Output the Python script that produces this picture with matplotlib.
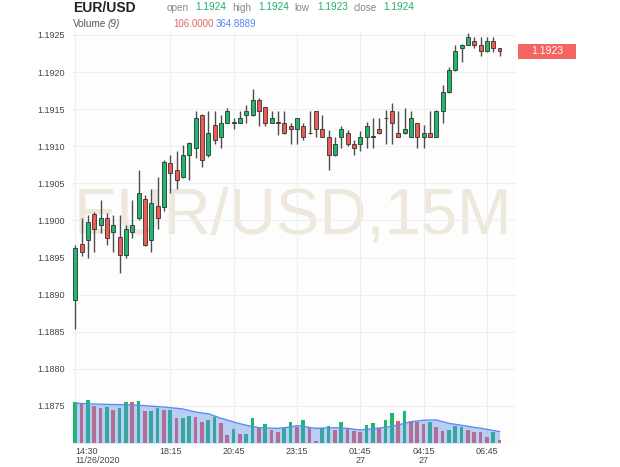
import matplotlib
matplotlib.use("Agg")
import matplotlib.pyplot as plt
import matplotlib.transforms as mtransforms
from matplotlib.patches import Rectangle
import numpy as np

plt.rcParams['font.family'] = ['Liberation Sans', 'DejaVu Sans']

# 15 minute candles, 11/26/2020 14:30 onwards
opens = [1.18893, 1.18968, 1.18973, 1.19009, 1.18994, 1.19003, 1.18984, 1.18978, 1.18953, 1.18984,
         1.19003, 1.19029, 1.18973, 1.19019, 1.19018, 1.19078, 1.19068, 1.19058, 1.19088, 1.19097,
         1.19142, 1.19088, 1.19129, 1.19113, 1.19132, 1.19132, 1.19132, 1.19142, 1.19142, 1.19162,
         1.19153, 1.19132, 1.19132, 1.19132, 1.19127, 1.19123, 1.19127, 1.19118, 1.19148, 1.19123,
         1.19113, 1.19088, 1.19113, 1.19118, 1.19103, 1.19103, 1.19113, 1.19113, 1.19123, 1.19138,
         1.19148, 1.19118, 1.19118, 1.19113, 1.19132, 1.19113, 1.19118, 1.19113, 1.19148, 1.19173,
         1.19203, 1.19233, 1.19237, 1.19242, 1.19237, 1.19228, 1.19242, 1.19233]
highs = [1.18967, 1.19003, 1.19007, 1.19012, 1.19028, 1.19010, 1.19007, 1.19007, 1.18994, 1.19028,
         1.19068, 1.19034, 1.19043, 1.19058, 1.19082, 1.19088, 1.19093, 1.19102, 1.19106, 1.19148,
         1.19144, 1.19148, 1.19148, 1.19142, 1.19152, 1.19138, 1.19148, 1.19156, 1.19177, 1.19165,
         1.19153, 1.19148, 1.19148, 1.19148, 1.19131, 1.19138, 1.19132, 1.19148, 1.19148, 1.19142,
         1.19122, 1.19113, 1.19127, 1.19122, 1.19108, 1.19120, 1.19133, 1.19138, 1.19138, 1.19149,
         1.19158, 1.19148, 1.19152, 1.19148, 1.19132, 1.19129, 1.19148, 1.19149, 1.19183, 1.19207,
         1.19237, 1.19238, 1.19252, 1.19247, 1.19247, 1.19247, 1.19247, 1.19233]
lows = [1.18853, 1.18952, 1.18949, 1.18958, 1.18983, 1.18967, 1.18958, 1.18929, 1.18949, 1.18976,
        1.19001, 1.18965, 1.18958, 1.18988, 1.19013, 1.19037, 1.19042, 1.19057, 1.19054, 1.19084,
        1.19072, 1.19086, 1.19103, 1.19097, 1.19131, 1.19123, 1.19131, 1.19132, 1.19141, 1.19127,
        1.19127, 1.19131, 1.19115, 1.19117, 1.19103, 1.19103, 1.19108, 1.19117, 1.19113, 1.19112,
        1.19068, 1.19087, 1.19097, 1.19100, 1.19088, 1.19093, 1.19097, 1.19097, 1.19117, 1.19103,
        1.19103, 1.19112, 1.19117, 1.19112, 1.19097, 1.19097, 1.19112, 1.19112, 1.19132, 1.19172,
        1.19202, 1.19213, 1.19236, 1.19233, 1.19222, 1.19227, 1.19227, 1.19222]
closes = [1.18963, 1.18958, 1.18998, 1.18988, 1.19003, 1.18977, 1.18994, 1.18953, 1.18988, 1.18994,
          1.19037, 1.18967, 1.19023, 1.19003, 1.19079, 1.19064, 1.19054, 1.19088, 1.19104, 1.19138,
          1.19082, 1.19118, 1.19108, 1.19132, 1.19148, 1.19133, 1.19138, 1.19148, 1.19162, 1.19148,
          1.19132, 1.19138, 1.19132, 1.19118, 1.19123, 1.19138, 1.19113, 1.19118, 1.19123, 1.19113,
          1.19088, 1.19103, 1.19123, 1.19103, 1.19097, 1.19113, 1.19127, 1.19113, 1.19118, 1.19138,
          1.19132, 1.19113, 1.19123, 1.19138, 1.19113, 1.19118, 1.19113, 1.19148, 1.19173, 1.19203,
          1.19228, 1.19237, 1.19247, 1.19237, 1.19228, 1.19242, 1.19233, 1.19228]

volumes = [1302, 1238, 1376, 1184, 1130, 1162, 1056, 1130, 1322, 1302,
           1354, 1034, 1034, 1130, 1056, 1056, 810, 810, 874, 842,
           662, 736, 842, 630, 256, 448, 278, 278, 790, 470,
           598, 416, 342, 490, 662, 522, 736, 522, 60, 470,
           554, 416, 682, 448, 384, 362, 576, 630, 490, 736,
           950, 704, 1024, 682, 662, 598, 682, 502, 384, 416,
           554, 522, 416, 342, 342, 202, 342, 106]
vol_up = [1, 0, 1, 0, 0, 1, 0, 1, 1, 0,
          1, 0, 1, 1, 0, 1, 0, 1, 1, 0,
          0, 1, 1, 0, 0, 1, 0, 1, 1, 0,
          1, 0, 0, 1, 1, 0, 1, 0, 0, 1,
          1, 0, 1, 0, 0, 0, 1, 1, 0, 1,
          1, 0, 1, 0, 0, 0, 1, 0, 0, 1,
          1, 1, 0, 0, 0, 0, 1, 0]
vol_ma = [1270, 1264, 1258, 1248, 1242, 1235, 1232, 1226, 1222, 1216,
          1206, 1194, 1178, 1165, 1152, 1130, 1110, 1088, 1040, 992,
          960, 938, 864, 790, 736, 672, 618, 566, 528, 490,
          480, 474, 470, 490, 512, 554, 534, 496, 470, 474,
          480, 490, 480, 470, 442, 416, 435, 458, 480, 502,
          538, 576, 630, 682, 704, 726, 736, 736, 682, 630,
          598, 566, 534, 502, 470, 438, 400, 365]

tick_idx = [0, 15, 25, 35, 45, 55, 65]
tick_labels = ['14:30\n11/26/2020', '18:15', '20:45', '23:15', '01:45\n27', '04:15\n27', '06:45']
price_ticks = [1.1875, 1.1880, 1.1885, 1.1890, 1.1895, 1.1900, 1.1905, 1.1910, 1.1915, 1.1920, 1.1925]

GREEN = '#1db86c'
RED = '#f05a55'

fig = plt.figure(figsize=(6.2, 4.67), dpi=100)
ax = fig.add_axes([72 / 620, 24 / 467, 444 / 620, 411 / 467])
ax.set_facecolor('#fdfdfd')

x = np.arange(len(opens))
o = np.array(opens)
c = np.array(closes)
h = np.array(highs)
l = np.array(lows)

# watermark
ax.text(0.497, 0.552, 'EUR/USD,15M', transform=ax.transAxes, fontsize=47,
        color='#ede7dc', ha='center', va='center', zorder=0)

# candles
ax.vlines(x, l, h, color='#4d4d4d', linewidth=1, zorder=2)
body_col = [GREEN if cc > oo else (RED if cc < oo else '#333333') for oo, cc in zip(o, c)]
bottom = np.minimum(o, c)
height = np.maximum(np.abs(c - o), 0.000004)
ax.bar(x, height, bottom=bottom, width=0.62, color=body_col,
       edgecolor='#333333', linewidth=0.6, zorder=3)

ax.set_xlim(-0.52, 69.6)
ax.set_ylim(1.18700, 1.19254)

ax.set_yticks(price_ticks)
ax.set_yticklabels(['%.4f' % p for p in price_ticks])
ax.yaxis.tick_right()
ax.tick_params(axis='y', length=0, pad=5, labelsize=6.5, labelcolor='#444444')
ax.set_xticks(tick_idx)
ax.set_xticklabels(tick_labels, linespacing=0.95)
ax.tick_params(axis='x', length=0, pad=3, labelsize=6.5, labelcolor='#444444')
ax.get_xticklabels()[0].set_ha('left')
ax.get_xticklabels()[0].set_x(-0.2)
ax.grid(True, color='#eeeeee', linewidth=0.8, zorder=1)
ax.set_axisbelow(True)
for s in ax.spines.values():
    s.set_visible(False)

# volume pane
ax2 = ax.twinx()
ax2.set_ylim(0, 411 * 32)
vcol = [GREEN if u else RED for u in vol_up]
ax2.bar(x, volumes, width=0.58, color=vcol, zorder=2)
ax2.fill_between(x, 0, vol_ma, color='#5a8ee8', alpha=0.42, linewidth=0, zorder=3)
ax2.plot(x, vol_ma, color='#5b8def', linewidth=1, zorder=4)
ax2.set_yticks([])
for s in ax2.spines.values():
    s.set_visible(False)

# last price tag
tr = mtransforms.blended_transform_factory(fig.transFigure, ax.transData)
last = closes[-1]
half = 7.5 * (1.19254 - 1.18700) / 411
ax.add_patch(Rectangle((518 / 620, last - half), 58 / 620, 2 * half, transform=tr,
                       facecolor='#f26560', edgecolor='none', clip_on=False, zorder=5))
ax.text(547 / 620, last, '%.4f' % last, transform=tr, color='white', fontsize=7.5,
        ha='center', va='center', zorder=6)

# header
def ftxt(px, py, s, **kw):
    fig.text(px / 620, 1 - py / 467, s, va='center', **kw)

ftxt(73, 8, 'EUR/USD', fontsize=10, fontweight='bold', color='#222222')
ftxt(167, 8, 'open', fontsize=7.2, color='#888888')
ftxt(195, 7, '1.1924', fontsize=7.2, color='#1fae66')
ftxt(232, 8, 'high', fontsize=7.2, color='#888888')
ftxt(258, 7, '1.1924', fontsize=7.2, color='#1fae66')
ftxt(294, 8, 'low', fontsize=7.2, color='#888888')
ftxt(317, 7, '1.1923', fontsize=7.2, color='#1fae66')
ftxt(354, 8, 'close', fontsize=7.2, color='#888888')
ftxt(383, 7, '1.1924', fontsize=7.2, color='#1fae66')
ftxt(73, 24, 'Volume', fontsize=7.2, color='#555555')
ftxt(108, 24, '(9)', fontsize=7.2, color='#555555', style='italic')
ftxt(173, 24, '106.0000', fontsize=7.0, color='#e06666')
ftxt(216, 24, '364.8889', fontsize=7.0, color='#5588ee')

fig.savefig('out.png', dpi=100)
